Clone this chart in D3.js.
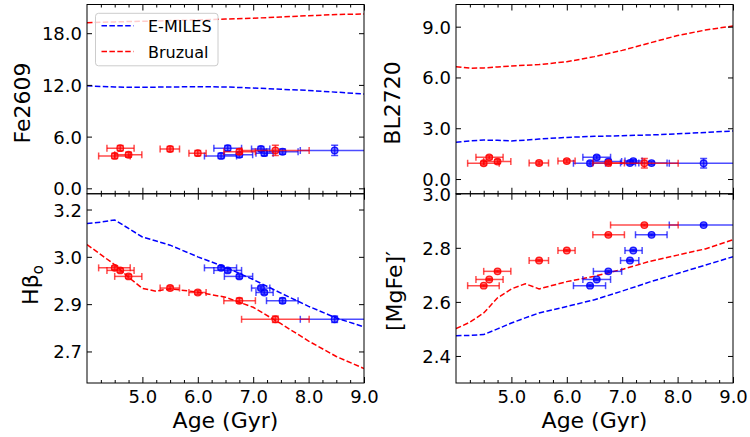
<!DOCTYPE html>
<html>
<head>
<meta charset="utf-8">
<script src="https://cdn.jsdelivr.net/npm/d3@7"></script>
<style>
body { margin: 0; background: #fff; }
svg { font-family: "DejaVu Sans", sans-serif; }
</style>
</head>
<body>
<div id="chart"></div>
<script>
// model grid (age in Gyr)
const gridAge = [4.0, 4.25, 4.5, 4.75, 5.0, 5.25, 5.5, 6.0, 6.5, 7.0, 7.5, 8.0, 8.5, 9.0];

// model curves, E-MILES (blue) and Bruzual (red)
const fe2609Emiles  = [11.90, 11.82, 11.76, 11.73, 11.72, 11.74, 11.76, 11.79, 11.76, 11.64, 11.50, 11.35, 11.16, 10.94];
const fe2609Bruzual = [19.22, 19.27, 19.31, 19.35, 19.38, 19.42, 19.46, 19.55, 19.64, 19.74, 19.88, 20.03, 20.17, 20.23];
const bl2720Emiles  = [2.17, 2.25, 2.30, 2.29, 2.25, 2.30, 2.36, 2.46, 2.52, 2.56, 2.60, 2.67, 2.75, 2.84];
const bl2720Bruzual = [6.64, 6.55, 6.56, 6.62, 6.68, 6.72, 6.76, 6.93, 7.23, 7.60, 8.04, 8.48, 8.80, 9.04];
const hbEmiles      = [3.106, 3.110, 3.117, 3.090, 3.063, 3.050, 3.037, 3.000, 2.967, 2.928, 2.885, 2.843, 2.806, 2.778];
const hbBruzual     = [3.039, 3.007, 2.975, 2.935, 2.900, 2.891, 2.899, 2.888, 2.872, 2.840, 2.788, 2.733, 2.684, 2.646];
const mgfeEmiles    = [2.475, 2.476, 2.479, 2.500, 2.522, 2.541, 2.559, 2.583, 2.608, 2.640, 2.674, 2.705, 2.736, 2.767];
const mgfeBruzual   = [2.501, 2.525, 2.559, 2.615, 2.648, 2.667, 2.648, 2.675, 2.695, 2.720, 2.750, 2.773, 2.796, 2.830];

// seven galaxies: ages fitted with each model (and age range)
const ageEmiles     = [6.42, 6.54, 6.75, 7.14, 7.20, 7.53, 8.47];
const ageEmilesLo   = [6.12, 6.29, 6.48, 6.97, 7.05, 7.24, 7.85];
const ageEmilesHi   = [6.70, 6.79, 6.99, 7.30, 7.36, 7.81, 9.10];
const ageBruzual    = [4.50, 4.60, 4.75, 5.50, 6.00, 6.75, 7.40];
const ageBruzualLo  = [4.21, 4.36, 4.50, 5.32, 5.84, 6.47, 6.79];
const ageBruzualHi  = [4.78, 4.85, 4.99, 5.67, 6.15, 7.04, 8.01];

// measured indices and errors
const fe2609Obs = [3.76, 4.66, 3.90, 4.56, 4.08, 4.25, 4.40];
const fe2609Err = [0.30, 0.30, 0.30, 0.30, 0.30, 0.30, 0.60];
const bl2720Obs = [0.93, 1.28, 1.03, 0.95, 1.06, 0.94, 0.93];
const bl2720Err = [0.10, 0.10, 0.12, 0.10, 0.10, 0.10, 0.28];
const hbObs     = [2.965, 2.957, 2.938, 2.901, 2.887, 2.861, 2.802];
const hbErr     = [0.006, 0.006, 0.006, 0.006, 0.006, 0.008, 0.010];
const mgfeObs   = [2.660, 2.683, 2.713, 2.753, 2.790, 2.848, 2.884];
const mgfeErr   = [0.003, 0.003, 0.003, 0.003, 0.003, 0.003, 0.003];

// ticks
const xTicks = [5, 6, 7, 8, 9];
const xTickLabels = ['5.0', '6.0', '7.0', '8.0', '9.0'];
const feTicks = [0, 6, 12, 18];
const feTickLabels = ['0.0', '6.0', '12.0', '18.0'];
const blTicks = [0, 3, 6, 9];
const blTickLabels = ['0.0', '3.0', '6.0', '9.0'];
const hbTicks = [2.70, 2.85, 3.00, 3.15];
const hbTickLabels = ['2.7', '2.9', '3.0', '3.2'];
const mgfeTicks = [2.4, 2.6, 2.8, 3.0];
const mgfeTickLabels = ['2.4', '2.6', '2.8', '3.0'];

const legendNames = ['E-MILES', 'Bruzual'];
const modelColors = ['blue', 'red'];

const xMinor = d3.range(4.25, 9, 0.25).filter(d => Math.abs(d - Math.round(d)) > 0.01);

const svg = d3.select('#chart').append('svg')
    .attr('width', 750).attr('height', 437);

const colL = [87, 364], colR = [456, 733];
const rowT = [4.5, 193.75], rowB = [193.75, 383];

const panels = [
    { id: 'fe', col: colL, row: rowT, yDomain: [-0.63, 21.33], ticks: feTicks, tickLabels: feTickLabels,
      models: [fe2609Emiles, fe2609Bruzual], obs: fe2609Obs, err: fe2609Err, showX: false, legend: true },
    { id: 'bl', col: colR, row: rowT, yDomain: [-0.87, 10.31], ticks: blTicks, tickLabels: blTickLabels,
      models: [bl2720Emiles, bl2720Bruzual], obs: bl2720Obs, err: bl2720Err, showX: false },
    { id: 'hb', col: colL, row: rowB, yDomain: [2.6, 3.2], ticks: hbTicks, tickLabels: hbTickLabels,
      models: [hbEmiles, hbBruzual], obs: hbObs, err: hbErr, showX: true },
    { id: 'mgfe', col: colR, row: rowB, yDomain: [2.3, 3.0], ticks: mgfeTicks, tickLabels: mgfeTickLabels,
      models: [mgfeEmiles, mgfeBruzual], obs: mgfeObs, err: mgfeErr, showX: true }
];

const fitAges = [
    { age: ageEmiles, lo: ageEmilesLo, hi: ageEmilesHi },
    { age: ageBruzual, lo: ageBruzualLo, hi: ageBruzualHi }
];

function styleAxis(sel) {
    sel.select('.domain').remove();
    sel.attr('font-family', null).attr('font-size', null);
    sel.selectAll('line').attr('stroke', '#000').attr('stroke-width', 1);
    sel.selectAll('text').attr('fill', '#000').style('font-size', '18px');
}

function drawPanel(p) {
    const w = p.col[1] - p.col[0], h = p.row[1] - p.row[0];
    const g = svg.append('g').attr('transform', `translate(${p.col[0]},${p.row[0]})`);
    const x = d3.scaleLinear().domain([4, 9]).range([0, w]);
    const y = d3.scaleLinear().domain(p.yDomain).range([h, 0]);

    g.append('clipPath').attr('id', 'clip-' + p.id)
        .append('rect').attr('width', w).attr('height', h);
    const plot = g.append('g').attr('clip-path', `url(#clip-${p.id})`);

    // model curves
    const line = d3.line().x((d, i) => x(gridAge[i])).y(d => y(d));
    p.models.forEach((vals, m) => {
        plot.append('path').attr('d', line(vals))
            .attr('fill', 'none').attr('stroke', modelColors[m])
            .attr('stroke-width', 1.5).attr('stroke-dasharray', '5.5,2.4');
    });

    // galaxies with error bars
    const cap = 3.5;
    fitAges.forEach((fa, m) => {
        const c = modelColors[m];
        const eg = plot.append('g').attr('stroke', c).attr('stroke-width', 1.5).attr('stroke-opacity', 0.7);
        p.obs.forEach((v, i) => {
            const cy = y(v), cx = x(fa.age[i]);
            const xl = x(fa.lo[i]), xr = x(fa.hi[i]);
            const yt = y(v + p.err[i]), yb = y(v - p.err[i]);
            eg.append('line').attr('x1', xl).attr('x2', xr).attr('y1', cy).attr('y2', cy);
            eg.append('line').attr('x1', xl).attr('x2', xl).attr('y1', cy - cap).attr('y2', cy + cap);
            eg.append('line').attr('x1', xr).attr('x2', xr).attr('y1', cy - cap).attr('y2', cy + cap);
            eg.append('line').attr('x1', cx).attr('x2', cx).attr('y1', yt).attr('y2', yb);
            eg.append('line').attr('x1', cx - cap).attr('x2', cx + cap).attr('y1', yt).attr('y2', yt);
            eg.append('line').attr('x1', cx - cap).attr('x2', cx + cap).attr('y1', yb).attr('y2', yb);
        });
        plot.append('g').selectAll('circle').data(p.obs).join('circle')
            .attr('cx', (d, i) => x(fa.age[i])).attr('cy', d => y(d)).attr('r', 3.3)
            .attr('fill', c).attr('fill-opacity', 0.5)
            .attr('stroke', c).attr('stroke-opacity', 0.85).attr('stroke-width', 1.3);
    });

    // frame
    g.append('rect').attr('width', w).attr('height', h)
        .attr('fill', 'none').attr('stroke', '#000').attr('stroke-width', 1);

    // axes, ticks pointing inwards
    g.append('g').call(d3.axisLeft(y).tickValues(p.ticks)
        .tickFormat((d, i) => p.tickLabels[i]).tickSizeInner(-5).tickSizeOuter(0).tickPadding(5))
        .call(styleAxis).selectAll('text').attr('dy', '0.36em');
    g.append('g').attr('transform', `translate(${w},0)`)
        .call(d3.axisRight(y).tickValues(p.ticks).tickFormat('').tickSizeInner(-5).tickSizeOuter(0))
        .call(styleAxis);
    g.append('g').attr('transform', `translate(0,${h})`)
        .call(d3.axisBottom(x).tickValues(xTicks)
            .tickFormat(p.showX ? (d, i) => xTickLabels[i] : '')
            .tickSizeInner(-6).tickSizeOuter(0).tickPadding(7))
        .call(styleAxis);
    g.append('g').attr('transform', `translate(0,${h})`)
        .call(d3.axisBottom(x).tickValues(xMinor).tickFormat('').tickSizeInner(-3).tickSizeOuter(0))
        .call(styleAxis);
    g.append('g')
        .call(d3.axisTop(x).tickValues(xTicks).tickFormat('').tickSizeInner(-6).tickSizeOuter(0))
        .call(styleAxis);
    g.append('g')
        .call(d3.axisTop(x).tickValues(xMinor).tickFormat('').tickSizeInner(-3).tickSizeOuter(0))
        .call(styleAxis);

    if (p.showX) {
        g.append('text').attr('x', w / 2).attr('y', 428 - p.row[0])
            .attr('text-anchor', 'middle').style('font-size', '22px').text('Age (Gyr)');
    }

    if (p.legend) {
        const lg = g.append('g').attr('transform', 'translate(8.5,8.8)');
        lg.append('rect').attr('width', 122.5).attr('height', 52.5).attr('rx', 3)
            .attr('fill', '#fff').attr('fill-opacity', 0.8).attr('stroke', '#ccc');
        legendNames.forEach((name, i) => {
            const ly = 12.5 + i * 25.8;
            lg.append('line').attr('x1', 6).attr('x2', 38).attr('y1', ly).attr('y2', ly)
                .attr('stroke', modelColors[i]).attr('stroke-width', 1.5).attr('stroke-dasharray', '5.5,2.4');
            lg.append('text').attr('x', 52.5).attr('y', ly + 6.3).style('font-size', '16px').text(name);
        });
    }
}

panels.forEach(drawPanel);

// y axis titles
function yTitle(xPos, yPos) {
    return svg.append('text').attr('transform', `translate(${xPos},${yPos}) rotate(-90)`)
        .attr('text-anchor', 'middle').style('font-size', '22px');
}
yTitle(30, 103).text('Fe2609');
yTitle(400, 103).text('BL2720');
const hbt = yTitle(37.5, 285);
hbt.append('tspan').text('Hβ');
hbt.append('tspan').attr('dy', 5).style('font-size', '15px').text('o');
yTitle(402, 291).text('[MgFe]′');
</script>
</body>
</html>
